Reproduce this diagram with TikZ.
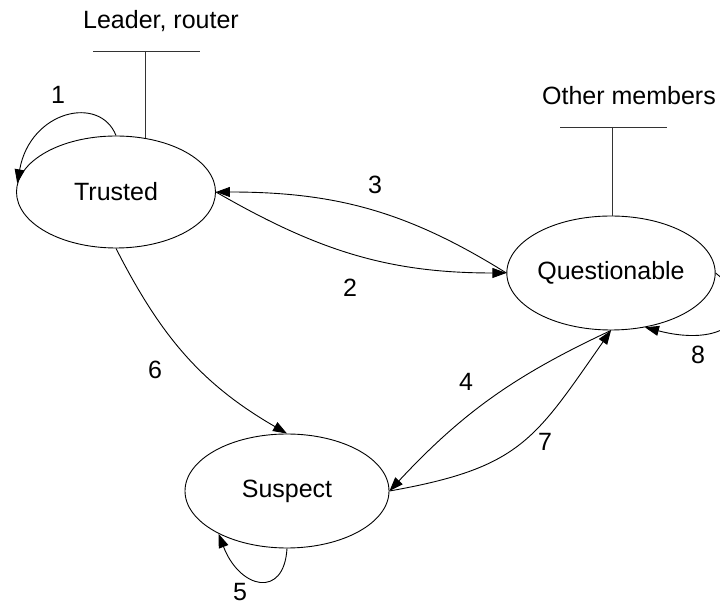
\documentclass[tikz,border=0pt]{standalone}
\usepackage{fontspec}
\setmainfont{Liberation Sans}
\usetikzlibrary{arrows.meta,shapes.geometric}
\begin{document}
\begin{tikzpicture}[x=1pt,y=1pt,
  every node/.style={font=\fontsize{25}{30}\selectfont},
  state/.style={draw, ellipse, line width=0.9pt, inner sep=0pt},
  conn/.style={draw, line width=0.9pt, -{Triangle[length=14pt,width=10pt]}},
  bar/.style={draw, line width=0.9pt, gray!40!black},
  lbl/.style={inner sep=0pt}
]
\clip (0,0) rectangle (720,605);
% states
\node[state, minimum width=199pt, minimum height=112pt] (T) at (116,413) {Trusted};
\node[state, minimum width=204pt, minimum height=114pt] (Q) at (611,332) {Questionable};
\node[state, minimum width=204pt, minimum height=114pt] (S) at (287,114) {Suspect};
% role labels
\node[lbl] (lead) at (161,584) {Leader, router};
\coordinate (lbarL) at (93,554);
\coordinate (lbar) at (145,554);
\coordinate (lbarR) at (200,554);
\draw[bar] (lbarL) -- (lbarR);
\draw[bar] (lbar) -- (lbar |- T.61.6);
\node[lbl] (oth) at (629,509) {Other members};
\coordinate (obarL) at (560,478);
\coordinate (obar) at (612,478);
\coordinate (obarR) at (667,478);
\draw[bar] (obarL) -- (obarR);
\draw[bar] (obar) -- (obar |- Q.north);
% transitions
\draw[conn] (T.north) .. controls +(-16,41) and +(13,73) .. (T.175);
\draw[conn] (T.east) to[out=-30, in=180] (Q.west);
\draw[conn] (Q.west) to[out=148, in=0] (T.east);
\draw[conn] (Q.south) to[out=205, in=47] (S.east);
\draw[conn] (S.south) .. controls +(-3,-51) and +(21,-55) .. (S.212);
\draw[conn] (T.south) to[out=-63, in=150] (S.north);
\draw[conn] (S.east) to[out=10, in=-125, looseness=1.25] (Q.south);
\draw[conn] (Q.east) .. controls +(47,-37) and +(85,-22) .. (Q.-58);
% edge labels
\node[lbl] (l1) at (58,510) {1};
\node[lbl] (l2) at (350,317) {2};
\node[lbl] (l3) at (375,420) {3};
\node[lbl] (l4) at (466,223) {4};
\node[lbl] (l5) at (240,13) {5};
\node[lbl] (l6) at (155,235) {6};
\node[lbl] (l7) at (545,163) {7};
\node[lbl] (l8) at (698,250) {8};
\end{tikzpicture}
\end{document}
